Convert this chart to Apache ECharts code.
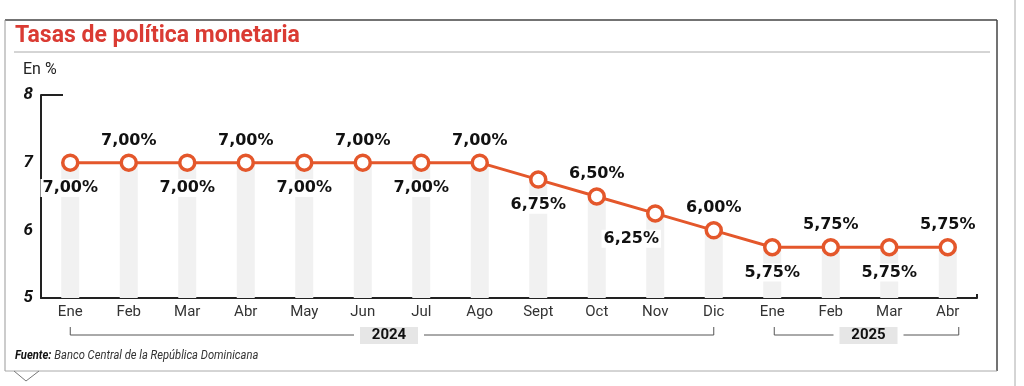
<!DOCTYPE html>
<html><head><meta charset="utf-8">
<script src="https://cdn.jsdelivr.net/npm/echarts@6/dist/echarts.min.js"></script>
<style>html,body{margin:0;padding:0;background:#fff}#c{width:1024px;height:386px}</style>
</head><body><div id="c"></div>
<script>
var months = ['Ene','Feb','Mar','Abr','May','Jun','Jul','Ago','Sept','Oct','Nov','Dic','Ene','Feb','Mar','Abr'];
var rates = [7.00,7.00,7.00,7.00,7.00,7.00,7.00,7.00,6.75,6.50,6.25,6.00,5.75,5.75,5.75,5.75];
var yearGroups = [{label:'2024', from:0, to:11}, {label:'2025', from:12, to:15}];
var yTicks = [5,6,7,8];

var chart = echarts.init(document.getElementById('c'));
var ORANGE = '#e4572b';
var FONT = "'Roboto','Liberation Sans',sans-serif";
var COND = "'DejaVu Sans Condensed','Roboto',sans-serif";

function fmt(v){ return v.toFixed(2).replace('.', ',') + '%'; }

var lineData = rates.map(function(v,i){
  var below = (i % 2 === 0);
  var lab = { position: below ? 'bottom' : 'top', distance: below ? 7 : 5 };
  if (i === 10) { lab.offset = [-24, 0]; }
  if (below) { lab.backgroundColor = '#fff'; lab.padding = [1,2]; }
  return { value: v, label: lab };
});

chart.setOption({
  animation: false,
  grid: { left: 41, right: 47, top: 95, bottom: 88 },
  xAxis: {
    type: 'category', data: months, boundaryGap: true,
    axisLine: { lineStyle: { color: '#222', width: 2 } },
    axisTick: { show: false },
    axisLabel: { color: '#333', fontSize: 15, fontFamily: FONT, margin: 7 }
  },
  yAxis: {
    type: 'value', min: yTicks[0], max: yTicks[yTicks.length-1], interval: 1,
    axisLine: { show: true, lineStyle: { color: '#222', width: 2 } },
    axisTick: { show: false },
    splitLine: { show: false },
    axisLabel: { color: '#111', fontSize: 17, fontWeight: 'bold', fontStyle: 'italic', fontFamily: FONT, margin: 8 }
  },
  series: [
    { type: 'bar', data: rates, barWidth: 18, itemStyle: { color: '#f1f1f1' }, z: 1, silent: true },
    { type: 'line', data: lineData, z: 3,
      lineStyle: { color: ORANGE, width: 3 },
      symbol: 'circle', symbolSize: 15,
      itemStyle: { color: '#fff', borderColor: ORANGE, borderWidth: 3.5 },
      label: { show: true, formatter: function(p){ return fmt(p.value); }, color: '#111', fontSize: 16, fontWeight: 'bold', fontFamily: "'DejaVu Sans',sans-serif" }
    }
  ]
});

function px(i){ return chart.convertToPixel({xAxisIndex:0}, i); }
function py(v){ return chart.convertToPixel({yAxisIndex:0}, v); }

var g = [];
// frame
g.push({ type:'line', shape:{x1:5,y1:20,x2:997,y2:20}, style:{stroke:'#444',lineWidth:1.5}});
g.push({ type:'line', shape:{x1:997,y1:20,x2:997,y2:371}, style:{stroke:'#444',lineWidth:1.5}});
g.push({ type:'line', shape:{x1:5,y1:20,x2:5,y2:371}, style:{stroke:'#999',lineWidth:1}});
g.push({ type:'line', shape:{x1:5,y1:371,x2:997,y2:371}, style:{stroke:'#aaa',lineWidth:1}});
g.push({ type:'polyline', shape:{points:[[14,371],[26,381],[39,371]]}, style:{stroke:'#777',fill:null,lineWidth:1}});
g.push({ type:'line', shape:{x1:1015,y1:0,x2:1015,y2:386}, style:{stroke:'#aaa',lineWidth:1}});
// title
g.push({ type:'text', left:15, top:25, style:{ text:'Tasas de política monetaria', fill:'#da3b33', font:"bold 23px "+FONT }});
g.push({ type:'line', shape:{x1:14,y1:52,x2:990,y2:52}, style:{stroke:'#aaa',lineWidth:1}});
g.push({ type:'text', left:23, top:62, style:{ text:'En %', fill:'#222', font:"16px "+FONT }});
// top tick at 8
var yTop = py(yTicks[yTicks.length-1]);
g.push({ type:'line', shape:{x1:41,y1:yTop,x2:63,y2:yTop}, style:{stroke:'#222',lineWidth:2}});
// right end tick
var yBot = py(yTicks[0]);
g.push({ type:'line', shape:{x1:977,y1:yBot,x2:977,y2:yBot-4}, style:{stroke:'#222',lineWidth:2}});
// year brackets
var by = 335;
yearGroups.forEach(function(gr, k){
  var x1 = px(gr.from), x2 = px(gr.to);
  if (k === 1) { x1 += 2; x2 += 11; }
  var cx = (x1 + x2) / 2 - (k === 0 ? 3 : -2);
  var bw = 58, bh = 17;
  g.push({ type:'polyline', shape:{points:[[x1,by-8],[x1,by],[cx-bw/2-6,by]]}, style:{stroke:'#555',fill:null,lineWidth:1}});
  g.push({ type:'polyline', shape:{points:[[cx+bw/2+6,by],[x2,by],[x2,by-8]]}, style:{stroke:'#555',fill:null,lineWidth:1}});
  g.push({ type:'rect', shape:{x:cx-bw/2,y:by-8,width:bw,height:bh}, style:{fill:'#e6e6e6'}});
  g.push({ type:'text', x:cx, y:by+0.5, style:{ text:gr.label, fill:'#111', font:"bold 15px "+FONT, textAlign:'center', textVerticalAlign:'middle' }});
});
// source
g.push({ type:'text', x:15, y:349, scaleX:0.86, style:{ rich:{ b:{ font:"italic bold 13px "+FONT, fill:'#111' }, n:{ font:"italic 13px "+FONT, fill:'#333' } }, text:'{b|Fuente:} {n|Banco Central de la República Dominicana}' }});

chart.setOption({ graphic: g });
</script>
</body></html>
